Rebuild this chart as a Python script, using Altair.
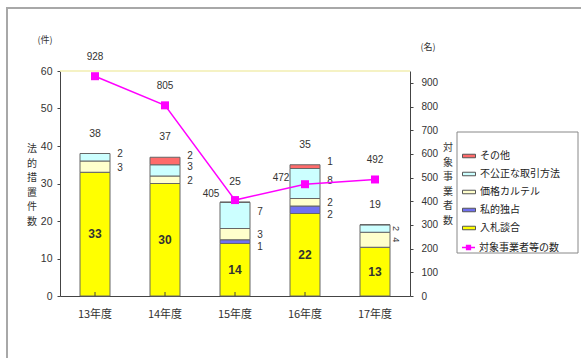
import altair as alt
import pandas as pd

years = ["13年度", "14年度", "15年度", "16年度", "17年度"]
cats = ["その他", "不公正な取引方法", "価格カルテル", "私的独占", "入札談合"]
cat_colors = ["#FF6B6B", "#CCFFFF", "#FFFFCC", "#7070F0", "#FFFF00"]
stack_rank = [4, 3, 2, 1, 0]
label_dy = [-5, -3, 1, 5, 0]

nyusatsu = [33, 30, 14, 22, 13]
shiteki = [0, 0, 1, 2, 0]
kakaku = [3, 2, 3, 2, 4]
fukousei = [2, 3, 7, 8, 2]
sonota = [0, 2, 0, 1, 0]

line_name = "対象事業者等の数"
counts = [928, 805, 405, 472, 492]

left_ticks = [0, 10, 20, 30, 40, 50, 60]
right_ticks = [0, 100, 200, 300, 400, 500, 600, 700, 800, 900]

left_unit = "(件)"
right_unit = "(名)"
left_title = "法\n的\n措\n置\n件\n数"
right_title = "対\n象\n事\n業\n者\n数"

FONT = "Noto Sans CJK JP"
NUM = "Liberation Sans"

series = {"入札談合": nyusatsu, "私的独占": shiteki, "価格カルテル": kakaku,
          "不公正な取引方法": fukousei, "その他": sonota}
rows = []
for c, vals in series.items():
    for y, v in zip(years, vals):
        rows.append({"year": y, "cat": c, "value": v,
                     "rank": stack_rank[cats.index(c)]})
bars_df = pd.DataFrame(rows)
line_df = pd.DataFrame({"year": years, "count": counts, "series": line_name})

xaxis = alt.Axis(labelFont=FONT, labelFontSize=11, labelColor="#333",
                 labelPadding=12, ticks=False, domainColor="#444",
                 labelAngle=0)
xscale = alt.Scale(paddingInner=0, paddingOuter=0)


def X():
    return alt.X("year:N", sort=years, title=None, scale=xscale, axis=xaxis)


yleft = alt.Scale(domain=[0, 60], nice=False)
axis_left = alt.Axis(values=left_ticks, grid=False, labelOverlap=False,
                     labelFont=NUM, labelFontSize=10.5, labelColor="#333",
                     tickSize=3, labelPadding=5, domainColor="#444",
                     tickColor="#444", title=None)
yright = alt.Scale(domain=[0, 950], nice=False)
axis_right = alt.Axis(orient="right", values=right_ticks, grid=False,
                      labelOverlap=False, labelFont=NUM, labelFontSize=10,
                      labelColor="#333", tickSize=3, labelPadding=8,
                      domainColor="#444", tickColor="#444", title=None)


def YL(field, **kw):
    return alt.Y(field, scale=yleft, axis=axis_left, title=None, **kw)


def YR(field):
    return alt.Y(field, scale=yright, axis=axis_right, title=None)


base = alt.Chart(bars_df)

bars = base.mark_bar(size=30, stroke="#666", strokeWidth=1).encode(
    x=X(),
    y=YL("sum(value):Q", stack="zero"),
    color=alt.Color("cat:N", scale=alt.Scale(domain=cats, range=cat_colors),
                    legend=alt.Legend(orient="none", legendX=402, legendY=78,
                                      title=None, padding=0,
                                      symbolType="M-1,-0.27H1V0.27H-1Z",
                                      symbolSize=169, symbolStrokeColor="#555",
                                      symbolStrokeWidth=1, labelFont=FONT,
                                      labelFontSize=10, labelColor="#222",
                                      labelOffset=4, rowPadding=6)),
    order=alt.Order("rank:Q", sort="ascending"),
)

stacked = base.transform_stack(
    stack="value", as_=["y0", "y1"], groupby=["year"],
    sort=[alt.SortField("rank", order="ascending")]
).transform_calculate(mid="(datum.y0 + datum.y1) / 2").transform_filter(
    "datum.value > 0")

inner_lbl = stacked.transform_filter("datum.cat == '入札談合'").mark_text(
    font=NUM, fontSize=12, fontWeight="bold", color="#333").encode(
    x=X(), y=YL("mid:Q"), text="value:Q")

side_layers = []
for c, d in zip(cats, label_dy):
    if c == "入札談合":
        continue
    side_layers.append(stacked.transform_filter(
        alt.FieldEqualPredicate(field="cat", equal=c)).transform_filter(
        "datum.year != '17年度'").mark_text(
        font=NUM, fontSize=10, color="#333", dx=25, dy=d).encode(
        x=X(), y=YL("mid:Q"), text="value:Q"))

rot_lbl = stacked.transform_filter(
    "datum.cat != '入札談合' && datum.year == '17年度'").mark_text(
    font=NUM, fontSize=9, color="#333", dx=0, dy=-21, angle=90).encode(
    x=X(), y=YL("mid:Q"), text="value:Q")

totals = base.transform_aggregate(total="sum(value)", groupby=["year"]).mark_text(
    font=NUM, fontSize=10.5, color="#333", dy=-20).encode(
    x=X(), y=YL("total:Q"), text="total:Q")

top_rule = alt.Chart(pd.DataFrame({"v": [60]})).mark_rule(
    color="#F2EEB0", strokeWidth=1.5).encode(
    y=YL("v:Q"), x=alt.value(0), x2=alt.value(350))

xticks = alt.Chart(pd.DataFrame({"year": years[1:]})).mark_rule(
    color="#444").encode(
    x=X(), xOffset=alt.value(-35),
    y=alt.value(221), y2=alt.value(225))

left = alt.layer(bars, top_rule, inner_lbl, *side_layers, rot_lbl, totals, xticks)

lbase = alt.Chart(line_df)
line = lbase.mark_line(color="#FF00FF", strokeWidth=1.5).encode(
    x=X(),
    y=YR("count:Q"),
    color=alt.Color("series:N",
                    scale=alt.Scale(domain=[line_name], range=["#FF00FF"]),
                    legend=alt.Legend(orient="none", legendX=402, legendY=170,
                                      title=None, padding=0,
                                      symbolType="M-1.2,0H1.2M-0.35,-0.35H0.35V0.35H-0.35Z",
                                      symbolSize=117, symbolFillColor="#FF00FF",
                                      symbolStrokeColor="#FF00FF",
                                      symbolStrokeWidth=1.5, labelFont=FONT,
                                      labelFontSize=10, labelColor="#222",
                                      labelOffset=4)),
)
pts = lbase.mark_square(color="#FF00FF", size=64, opacity=1, filled=True).encode(
    x=X(), y=YR("count:Q"))
lbl_above = lbase.transform_filter(
    "datum.year != '15年度' && datum.year != '16年度'").mark_text(
    font=NUM, fontSize=10, color="#333", dy=-19).encode(
    x=X(), y=YR("count:Q"), text="count:Q")
lbl_left = lbase.transform_filter(
    "datum.year == '15年度' || datum.year == '16年度'").mark_text(
    font=NUM, fontSize=10, color="#333", dx=-24, dy=-6).encode(
    x=X(), y=YR("count:Q"), text="count:Q")

right = alt.layer(line, pts, lbl_above, lbl_left)

unit_l = alt.Chart(pd.DataFrame({"t": [left_unit]})).mark_text(
    font=FONT, fontSize=9, color="#333").encode(
    x=alt.value(-15), y=alt.value(-31), text="t:N")
unit_r = alt.Chart(pd.DataFrame({"t": [right_unit]})).mark_text(
    font=FONT, fontSize=9, color="#333").encode(
    x=alt.value(368), y=alt.value(-24), text="t:N")
title_l = alt.Chart(pd.DataFrame({"t": [left_title]})).mark_text(
    font=FONT, fontSize=10, color="#333", lineBreak="\n", lineHeight=14.5,
    baseline="top").encode(x=alt.value(-28), y=alt.value(73), text="t:N")
title_r = alt.Chart(pd.DataFrame({"t": [right_title]})).mark_text(
    font=FONT, fontSize=10, color="#333", lineBreak="\n", lineHeight=14.5,
    baseline="top").encode(x=alt.value(388), y=alt.value(72), text="t:N")

frame = alt.Chart(pd.DataFrame({"a": [0]})).mark_rect(
    fill="transparent", stroke="#A8A8A8", strokeWidth=2).encode(
    x=alt.value(-53), y=alt.value(-63), x2=alt.value(600), y2=alt.value(400))
legbox = alt.Chart(pd.DataFrame({"a": [0]})).mark_rect(
    fill="white", stroke="#888", strokeWidth=1).encode(
    x=alt.value(397), y=alt.value(61), x2=alt.value(518), y2=alt.value(182))

chart = alt.layer(frame, legbox, left, right, unit_l, unit_r, title_l, title_r).resolve_scale(
    y="independent", color="independent"
).properties(
    width=350, height=225,
    autosize=alt.AutoSizeParams(type="none"),
    padding={"left": 60, "top": 71, "right": 171, "bottom": 62},
    background="white",
).configure_view(stroke=None)

chart.save("out.html", embed_options={"renderer": "svg", "actions": False})
